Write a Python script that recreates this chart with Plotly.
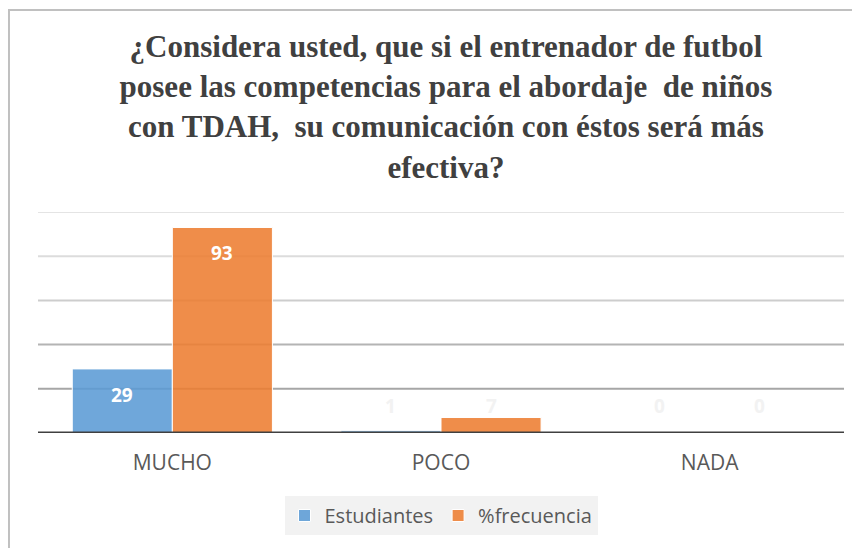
import plotly.graph_objects as go

# Data
categorias = ["MUCHO", "POCO", "NADA"]
estudiantes = [29, 1, 0]
frecuencia = [93, 7, 0]
y_ticks = [0, 20, 40, 60, 80, 100]

titulo = ("<b>¿Considera usted, que si el entrenador de futbol<br>"
          "posee las competencias para el abordaje  de niños<br>"
          "con TDAH,  su comunicación con éstos será más<br>"
          "efectiva?</b>")

BARGAP = 0.255
AZUL = "rgba(91,155,213,0.88)"
NARANJA = "rgba(237,125,49,0.88)"

fig = go.Figure()
fig.add_trace(go.Bar(x=categorias, y=estudiantes, name="Estudiantes",
                     marker=dict(color=AZUL, line=dict(color="white", width=1))))
fig.add_trace(go.Bar(x=categorias, y=frecuencia, name="%frecuencia",
                     marker=dict(color=NARANJA, line=dict(color="white", width=1))))

# gridlines, lighter towards the top
grid_cols = ["#a6a6a6", "#b4b4b4", "#cdcdcd", "#dcdcdc", "#e4e4e4"]
for t, c in zip(y_ticks[1:], grid_cols):
    fig.add_hline(y=t, line=dict(color=c, width=2), layer="below")
fig.add_hline(y=0, line=dict(color="#404040", width=3), layer="above")

# value labels, placed like Excel's "inside end"
off = (1 - BARGAP) / 4
for serie, dx in ((estudiantes, -off), (frecuencia, off)):
    for i, v in enumerate(serie):
        grande = v > 20
        fig.add_annotation(
            x=i + dx, y=v if grande else 0, text="<b>%d</b>" % v, showarrow=False,
            yshift=-26 if grande else 27,
            font=dict(family="Open Sans", size=19,
                      color="white" if grande else "#f2f2f2"),
        )

# outer chart border
fig.add_shape(type="rect", xref="paper", yref="paper",
              x0=-0.036, x1=1.05, y0=-0.6, y1=1.914,
              line=dict(color="#c0c0c0", width=2), fillcolor="rgba(0,0,0,0)")

# page body has an 8px margin, so the figure is a bit smaller than the window
fig.update_layout(
    width=852, height=540,
    margin=dict(l=30, r=16, t=204, b=115, autoexpand=False),
    paper_bgcolor="white", plot_bgcolor="white",
    barmode="group", bargap=BARGAP, bargroupgap=0,
    title=dict(text=titulo, x=0.514, xanchor="center", y=0.91, yanchor="top",
               font=dict(family="Liberation Serif", size=31, color="#404040")),
    font=dict(family="Open Sans", color="#595959"),
    showlegend=True,
    legend=dict(orientation="h", x=0.5, xanchor="center", y=-0.285, yanchor="top",
                bgcolor="#f2f2f2", font=dict(size=20, color="#595959"),
                itemwidth=30),
)
fig.update_xaxes(showgrid=False, showline=False, ticks="",
                 tickfont=dict(size=21, color="#595959"), ticklabelstandoff=15)
fig.update_yaxes(range=[0, 100], tickvals=y_ticks, showgrid=False,
                 showticklabels=False, zeroline=False, showline=False)

fig.write_html("out.html")
